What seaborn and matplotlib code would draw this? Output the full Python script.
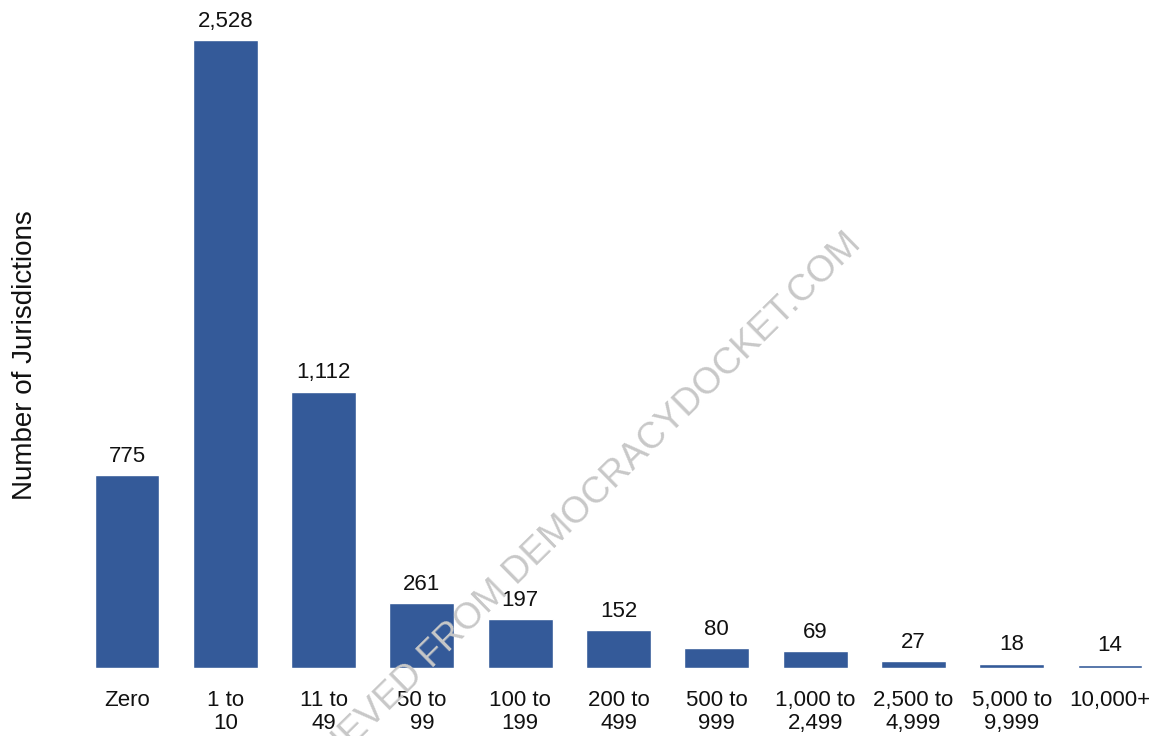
import matplotlib
matplotlib.use("Agg")
import matplotlib.pyplot as plt
import seaborn as sns
import pandas as pd

categories = ["Zero", "1 to\n10", "11 to\n49", "50 to\n99", "100 to\n199", "200 to\n499",
              "500 to\n999", "1,000 to\n2,499", "2,500 to\n4,999", "5,000 to\n9,999", "10,000+"]
values = [775, 2528, 1112, 261, 197, 152, 80, 69, 27, 18, 14]
y_label = "Number of Jurisdictions"
watermark = "RETRIEVED FROM DEMOCRACYDOCKET.COM"

sns.set_theme(style="white")
plt.rcParams['font.family'] = ['Liberation Sans', 'DejaVu Sans']

df = pd.DataFrame({"cat": categories, "val": values})

W, H = 1151, 736
fig = plt.figure(figsize=(W / 100, H / 100), dpi=100)
ax = fig.add_axes([92.6 / W, (H - 668) / H, 1051.8 / W, 668 / H])

sns.barplot(data=df, x="cat", y="val", color="#345a99", saturation=1, width=0.66, ax=ax)
ax.set_xlim(-0.35, 10.35)
ax.set_ylim(0, 2528 * 668 / 628)

for i, v in enumerate(values):
    ax.annotate(f"{v:,}", (i, v), xytext=(0, 6), textcoords="offset points",
                ha="center", va="bottom", fontsize=16, color="#111111")

sns.despine(ax=ax, left=True, bottom=True)
ax.set_yticks([])
ax.set_xlabel("")
ax.tick_params(axis="x", length=0, pad=16, labelsize=16, labelcolor="#111111")
for t in ax.get_xticklabels():
    t.set_linespacing(1.1)
    t.set_verticalalignment("top")
ax.set_ylabel(y_label, fontsize=20, color="#111111")
ax.yaxis.set_label_coords(-0.052, 0.469)

fig.text(562 / W, 1 - 528 / H, watermark, rotation=44.5, rotation_mode="anchor",
         ha="center", va="center", fontsize=26.6, color="#c8c8c8", zorder=10)

fig.savefig("out.png", dpi=100)
